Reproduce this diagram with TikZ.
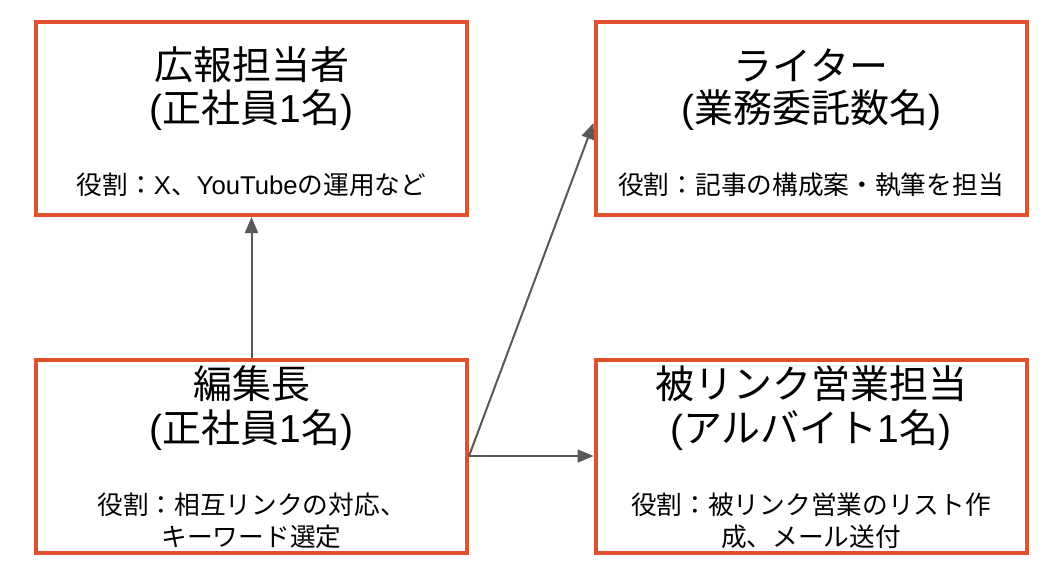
\documentclass[tikz,border=0pt]{standalone}
\usepackage{fontspec}
\setmainfont{Noto Sans CJK JP}
\newfontfamily\lat{Liberation Sans}
\usetikzlibrary{arrows.meta}
\definecolor{boxred}{RGB}{224,80,44}
\definecolor{arrowgray}{RGB}{89,89,89}
\tikzset{
  orgbox/.style={draw=boxred, line width=4pt, fill=white, minimum width=431pt, minimum height=193pt, inner sep=0pt},
  titletext/.style={font=\fontsize{39}{46}\selectfont, inner sep=0pt, anchor=center},
  roletext/.style={font=\fontsize{25.7}{32}\selectfont, inner sep=0pt, anchor=center, align=center},
  link/.style={draw=arrowgray, line width=2pt, -{Triangle[length=16pt,width=13pt]}}
}
\begin{document}
\begin{tikzpicture}[x=1pt,y=-1pt]
\useasboundingbox (0,0) rectangle (1048,574);
\fill[white] (0,0) rectangle (1048,574);
\node[orgbox] (b1) at (251.5,118.5) {};
\node[orgbox] (b2) at (811,118.5) {};
\node[orgbox] (b3) at (251.5,456) {};
\node[orgbox] (b4) at (811,456) {};
% box 1
\node[titletext] (b1t1) at (251.5,65) {広報担当者};
\node[titletext] (b1t2) at (251.5,110) {{\lat(}正社員{\lat 1}名{\lat)}};
\node[roletext] (b1r) at (251.5,185) {役割：{\lat X}、{\lat YouTube}の運用など};
% box 2
\node[titletext] (b2t1) at (811,65) {ライター};
\node[titletext] (b2t2) at (811,110) {{\lat(}業務委託数名{\lat)}};
\node[roletext] (b2r) at (811,185) {役割：記事の構成案・執筆を担当};
% box 3
\node[titletext] (b3t1) at (251.5,384) {編集長};
\node[titletext] (b3t2) at (251.5,430) {{\lat(}正社員{\lat 1}名{\lat)}};
\node[roletext] (b3r) at (251.5,521) {役割：相互リンクの対応、\\キーワード選定};
% box 4
\node[titletext] (b4t1) at (811,384) {被リンク営業担当};
\node[titletext] (b4t2) at (811,430) {{\lat(}アルバイト{\lat 1}名{\lat)}};
\node[roletext] (b4r) at (811,521) {役割：被リンク営業のリスト作\\成、メール送付};
% connectors
\draw[link] (b3.north) -- (b1.south);
\draw[link] (b3.east) -- ([yshift=-4.5pt]b2.west);
\draw[link] (b3.east) -- (b4.west);
\end{tikzpicture}
\end{document}
